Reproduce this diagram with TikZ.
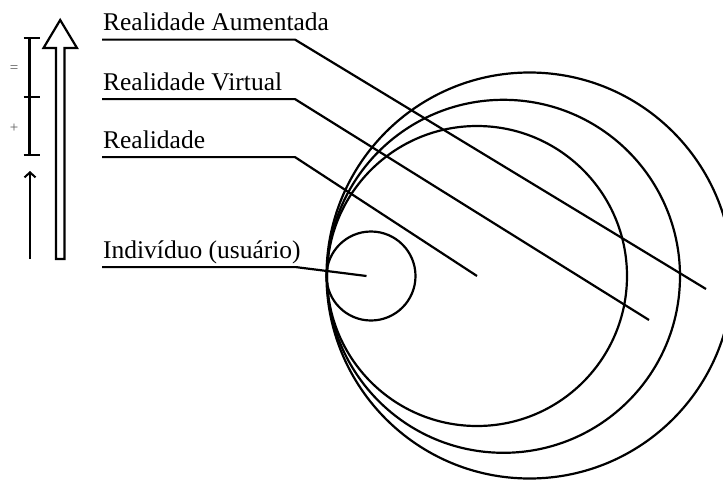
\documentclass[tikz,border=0pt]{standalone}
\usepackage{fontspec}
\setmainfont{Liberation Serif}
\usetikzlibrary{arrows.meta}

\begin{document}
\begin{tikzpicture}
[x=1pt,y=-1pt,line width=2.2pt,%
  lineDecorate/.style={-,line width=2.2pt,line join=miter},%
  labelDecorate/.style={anchor=base west,inner sep=0pt,text depth=8pt,font=\fontsize{25.5}{29}\selectfont},%
  ringDecorate/.style={shape=circle,draw,inner sep=0pt,outer sep=0pt,line width=2.2pt}]
\useasboundingbox (0,0) rectangle (723,480);
%% rings
\node[ringDecorate,minimum size=89pt] (ind) at (371,276) {};
\node[ringDecorate,minimum size=300pt] (real) at (477,276) {};
\node[ringDecorate,minimum size=353pt] (virt) at (503.5,276.3) {};
\node[ringDecorate,minimum size=406pt] (aum) at (529.5,275.5) {};
%% free ends of the connectors
\coordinate (indEnd) at (366.5,276);
\coordinate (virtEnd) at (649,320);
\coordinate (aumEnd) at (706,289);
%% labels
\foreach \nodename/\y/\txt in {
  aumLabel/30.5/Realidade Aumentada, virtLabel/90/Realidade Virtual,
  realLabel/148/Realidade, indLabel/258/Indivíduo (usuário)}
{
  \node[labelDecorate] (\nodename) at (102,\y) {\txt};
}
%% connect labels to rings
\draw[lineDecorate] (aumLabel.south west) -- ++(193,0) -- (aumEnd);
\draw[lineDecorate] (virtLabel.south west) -- ++(193,0) -- (virtEnd);
\draw[lineDecorate] (realLabel.south west) -- ++(193,0) -- (real.center);
\draw[lineDecorate] (indLabel.south west) -- ++(194,0) -- (indEnd);
%% hollow arrow
\draw[line width=2.2pt,line join=miter]
  (56,259) -- (56,48) -- (43.5,48) -- (60.2,20) -- (77,48) -- (64.4,48) -- (64.4,259) -- cycle;
%% scale bar
\draw[lineDecorate] (29.5,38) -- (29.5,155);
\foreach \y in {38,97,155}
  \draw[lineDecorate] (23.5,\y) -- (39.5,\y);
\node[inner sep=0pt,text=black!65,font=\fontsize{15}{16}\selectfont] (eqSign) at (14,69) {=};
\node[inner sep=0pt,text=black!65,font=\fontsize{15}{16}\selectfont] (plusSign) at (14,128) {+};
%% small arrow
\coordinate (upBottom) at (30,259);
\coordinate (upTop) at (30,171);
\draw[line width=2.2pt,-{Straight Barb[length=5pt,width=11pt,line width=2pt]}] (upBottom) -- (upTop);
\end{tikzpicture}
\end{document}
